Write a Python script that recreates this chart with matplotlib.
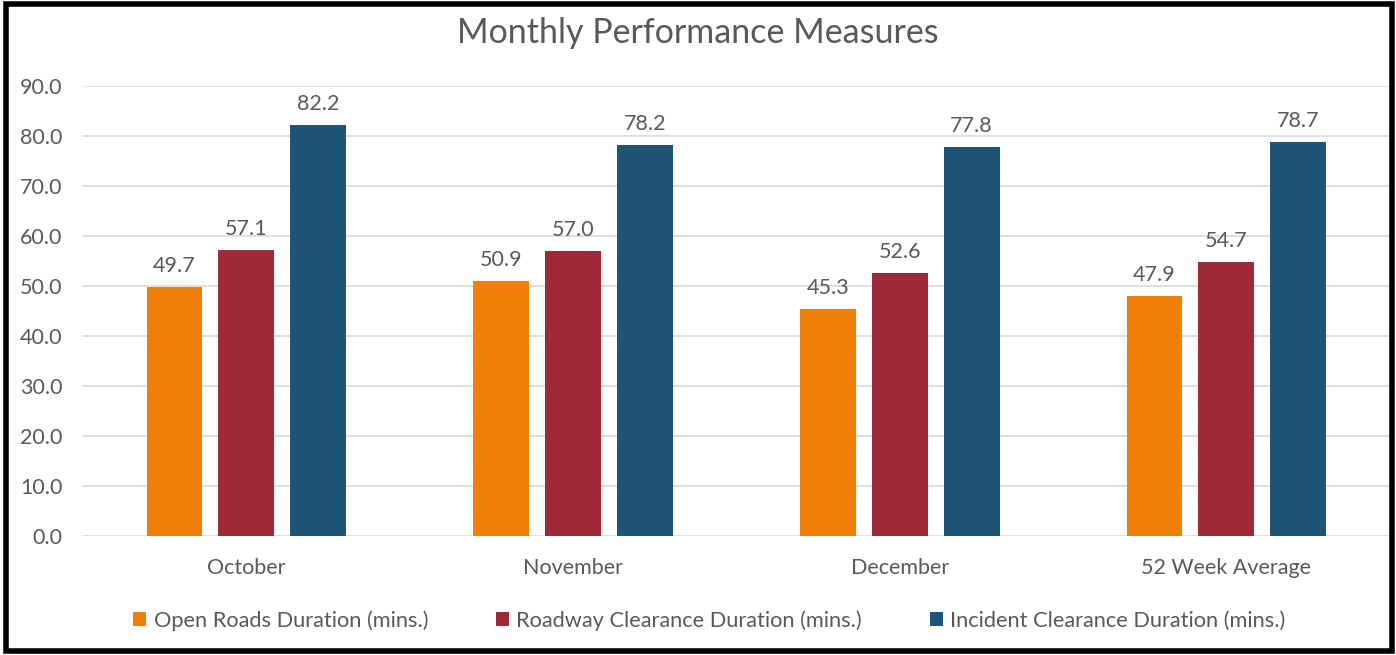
import numpy as np
import matplotlib.pyplot as plt
from matplotlib.patches import Rectangle

# Chart data
categories = ['October', 'November', 'December', '52 Week Average']
open_roads = [49.7, 50.9, 45.3, 47.9]
roadway_clearance = [57.1, 57.0, 52.6, 54.7]
incident_clearance = [82.2, 78.2, 77.8, 78.7]
series_names = ['Open Roads Duration (mins.)',
                'Roadway Clearance Duration (mins.)',
                'Incident Clearance Duration (mins.)']
colors = ['#F07F09', '#9E2A38', '#1D5478']
text_color = '#595959'

plt.rcParams['font.family'] = ['Lato', 'DejaVu Sans']

fig = plt.figure(figsize=(13.96, 6.55), dpi=100)
ax = fig.add_axes([0.0595, 0.1817, 0.936, 0.687])

x = np.arange(len(categories))
width = 0.171
step = 0.22
all_series = [open_roads, roadway_clearance, incident_clearance]
for i, (vals, name, c) in enumerate(zip(all_series, series_names, colors)):
    bars = ax.bar(x + (i - 1) * step, vals, width, color=c, label=name, zorder=3)
    for b, v in zip(bars, vals):
        ax.annotate(f'{v:.1f}', (b.get_x() + b.get_width() / 2, v),
                    xytext=(0, 8), textcoords='offset points',
                    ha='center', va='bottom', fontsize=15.5, color=text_color)

ax.set_xlim(-0.5, len(categories) - 0.5)
ax.set_ylim(0, 90)
ax.set_yticks(np.arange(0, 91, 10))
ax.set_yticklabels([f'{t:.1f}' for t in np.arange(0, 91, 10)])
ax.set_xticks(x)
ax.set_xticklabels(categories)
ax.tick_params(axis='both', length=0, labelsize=15.5, colors=text_color)
ax.tick_params(axis='y', pad=15)
ax.tick_params(axis='x', pad=16)
ax.grid(axis='y', color='#D9D9D9', linewidth=1.2, zorder=0)
for s in ax.spines.values():
    s.set_visible(False)

fig.text(0.5, 0.95, 'Monthly Performance Measures', ha='center', va='center',
         fontsize=24.5, color=text_color)

leg = fig.legend(loc='center', bbox_to_anchor=(0.508, 0.053), ncol=3, frameon=False,
                 fontsize=15.7, handlelength=0.6, handleheight=0.6, handletextpad=0.35,
                 columnspacing=3.1, labelcolor=text_color)

# black frame around the picture
fig.patches.append(Rectangle((0.004, 0.006), 0.993, 0.988, transform=fig.transFigure,
                             fill=False, edgecolor='black', linewidth=4))

fig.savefig('out.png', dpi=100)
